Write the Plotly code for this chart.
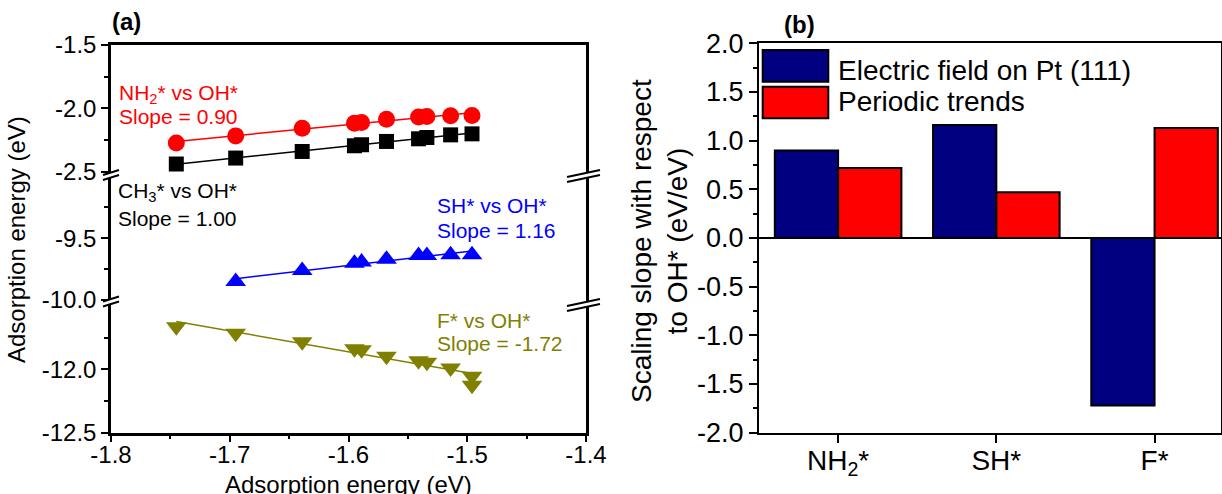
import numpy as np
import plotly.graph_objects as go

W, H = 1222, 494

# ---------------- Panel (a) data ----------------
oh_x = [-1.745, -1.695, -1.639, -1.595, -1.589, -1.568, -1.541, -1.534, -1.514, -1.496]
nh2_y = [-2.274, -2.217, -2.156, -2.117, -2.112, -2.085, -2.068, -2.064, -2.058, -2.057]
ch3_y = [-2.439, -2.392, -2.340, -2.295, -2.287, -2.261, -2.240, -2.230, -2.209, -2.201]
sh_x = [-1.695, -1.639, -1.595, -1.589, -1.568, -1.541, -1.534, -1.514, -1.496]
sh_y = [-9.851, -9.762, -9.702, -9.693, -9.669, -9.640, -9.640, -9.634, -9.634]
f_x = [-1.745, -1.695, -1.639, -1.595, -1.589, -1.568, -1.541, -1.534, -1.514, -1.496, -1.496]
f_y = [-11.664, -11.716, -11.782, -11.838, -11.845, -11.897, -11.932, -11.945, -11.990, -12.055, -12.125]

x_ticks = [-1.8, -1.7, -1.6, -1.5, -1.4]
x_minor = [-1.75, -1.65, -1.55, -1.45]
top_ticks = [-2.5, -2.0, -1.5]
top_minor = [-2.25, -1.75]
mid_ticks = [-10.0, -9.5]
mid_minor = [-9.75, -9.25]
bot_ticks = [-12.5, -12.0]
bot_minor = [-12.25, -11.75]

# ---------------- Panel (b) data ----------------
categories = ["NH<sub>2</sub>*", "SH*", "F*"]
efield_slope = [0.90, 1.16, -1.72]
periodic_slope = [0.72, 0.47, 1.13]
b_ticks = [-2.0, -1.5, -1.0, -0.5, 0.0, 0.5, 1.0, 1.5, 2.0]
b_minor = [-1.75, -1.25, -0.75, -0.25, 0.25, 0.75, 1.25, 1.75]

FONT = "Liberation Sans, Arial, sans-serif"
RED, BLACK, BLUE, OLIVE = "#FF0000", "#000000", "#0000FF", "#808000"
NAVY = "#000080"


def px(x):
    return x / W


def py(y):
    return 1 - y / H


def lbl(vals):
    return [f"{v:.1f}" for v in vals]


def fit(xs, ys):
    k, b = np.polyfit(xs, ys, 1)
    xl = np.array([min(xs), max(xs)])
    return xl, k * xl + b


fig = go.Figure()

series = [
    (oh_x, nh2_y, RED, "circle", 17, "x", "y"),
    (oh_x, ch3_y, BLACK, "square", 15, "x", "y"),
    (sh_x, sh_y, BLUE, "triangle-up", 18, "x2", "y2"),
    (f_x, f_y, OLIVE, "triangle-down", 18, "x3", "y3"),
]
for xs, ys, col, sym, size, xa, ya in series:
    lx, ly = fit(xs, ys)
    fig.add_trace(go.Scatter(x=lx, y=ly, mode="lines", line=dict(color=col, width=1.5),
                             xaxis=xa, yaxis=ya, showlegend=False, hoverinfo="skip"))
    fig.add_trace(go.Scatter(x=xs, y=ys, mode="markers",
                             marker=dict(symbol=sym, size=size, color=col, line=dict(width=0)),
                             xaxis=xa, yaxis=ya, showlegend=False))

fig.add_trace(go.Bar(x=categories, y=efield_slope, name="Electric field on Pt (111)",
                     marker=dict(color=NAVY, line=dict(color="black", width=2)),
                     xaxis="x4", yaxis="y4", showlegend=False))
fig.add_trace(go.Bar(x=categories, y=periodic_slope, name="Periodic trends",
                     marker=dict(color=RED, line=dict(color="black", width=2)),
                     xaxis="x4", yaxis="y4", showlegend=False))

xa_dom = [px(111), px(586)]
ax_common = dict(showgrid=False, zeroline=False, linecolor="black", automargin=False)

def yseg(dom, rng, ticks, minor):
    return dict(domain=dom, range=rng, tickmode="array", tickvals=ticks, ticktext=lbl(ticks),
                ticks="outside", ticklen=7, tickwidth=2, tickcolor="black",
                showline=True, linewidth=2.5, mirror=True,
                tickfont=dict(family=FONT, size=24, color="black"),
                minor=dict(tickmode="array", tickvals=minor, ticks="outside", ticklen=4,
                           tickwidth=2, tickcolor="black"),
                **ax_common)

fig.update_layout(
    width=W, height=H, template="none",
    margin=dict(l=0, r=0, t=0, b=0, pad=0),
    paper_bgcolor="white", plot_bgcolor="rgba(0,0,0,0)",
    showlegend=False, barmode="group", bargap=0.2, bargroupgap=0,
    font=dict(family=FONT, color="black"),
    xaxis=dict(domain=xa_dom, range=[-1.8, -1.4], anchor="y", side="top", matches="x3",
               showline=True, linewidth=2.5, ticks="", showticklabels=False, **ax_common),
    xaxis2=dict(domain=xa_dom, range=[-1.8, -1.4], anchor="y2", matches="x3",
                showline=False, ticks="", showticklabels=False, **ax_common),
    xaxis3=dict(domain=xa_dom, range=[-1.8, -1.4], anchor="y3",
                tickmode="array", tickvals=x_ticks, ticktext=lbl(x_ticks),
                ticks="outside", ticklen=7, tickwidth=2, tickcolor="black",
                showline=True, linewidth=2.5, ticklabelstandoff=-8,
                tickfont=dict(family=FONT, size=24, color="black"),
                minor=dict(tickmode="array", tickvals=x_minor, ticks="outside", ticklen=4,
                           tickwidth=2, tickcolor="black"),
                **ax_common),
    yaxis=yseg([py(172), py(45)], [-2.502, -1.5], top_ticks, top_minor),
    yaxis2=yseg([py(300), py(172)], [-10.0, -8.963], mid_ticks, mid_minor),
    yaxis3=yseg([py(432.7), py(300)], [-12.5, -11.453], bot_ticks, bot_minor),
    xaxis4=dict(domain=[px(759), px(1221)], range=[-0.5, 2.42], anchor="y4",
                type="category", ticks="outside", ticklen=8, tickwidth=2, tickcolor="black",
                showline=True, linewidth=2, mirror=True, ticklabelstandoff=-6,
                tickfont=dict(family=FONT, size=28, color="black"), **ax_common),
    yaxis4=dict(domain=[py(432.7), py(43.3)], range=[-2, 2], anchor="x4",
                tickmode="array", tickvals=b_ticks, ticktext=lbl(b_ticks),
                ticks="outside", ticklen=8, tickwidth=2, tickcolor="black",
                showline=True, linewidth=2, mirror=True,
                tickfont=dict(family=FONT, size=27, color="black"),
                minor=dict(tickmode="array", tickvals=b_minor, ticks="outside", ticklen=4,
                           tickwidth=2, tickcolor="black"),
                showgrid=False, zeroline=True, zerolinecolor="black", zerolinewidth=2,
                linecolor="black", automargin=False),
)

ann = []

def text(x, y, s, size, color="black", xanchor="left", angle=0, bold=False):
    ann.append(dict(x=px(x), y=py(y), xref="paper", yref="paper", text=(f"<b>{s}</b>" if bold else s),
                    showarrow=False, xanchor=xanchor, yanchor="middle", textangle=angle,
                    font=dict(family=FONT, size=size, color=color)))

# panel (a) labels
text(127, 21, "(a)", 24, xanchor="center", bold=True)
text(117, 94, "NH<sub>2</sub>* vs OH*", 21, RED)
text(117, 116, "Slope = 0.90", 21, RED)
text(116, 192, "CH<sub>3</sub>* vs OH*", 21, BLACK)
text(116, 218, "Slope = 1.00", 21, BLACK)
text(434.5, 205, "SH* vs OH*", 21, BLUE)
text(434.5, 230.5, "Slope = 1.16", 21, BLUE)
text(434.5, 320.5, "F* vs OH*", 21, OLIVE)
text(434.5, 343, "Slope = -1.72", 21, OLIVE)
text(17, 240, "Adsorption energy (eV)", 24, xanchor="center", angle=-90)
text(348, 484, "Adsorption energy (eV)", 24, xanchor="center")

# panel (b) labels
text(799, 25, "(b)", 24, xanchor="center", bold=True)
text(659, 241, "Scaling slope with respect<br>to OH* (eV/eV)", 28, xanchor="center", angle=-90)
text(836, 70, "Electric field on Pt (111)", 28)
text(836, 101, "Periodic trends", 28)

shapes = []
# legend swatches
shapes.append(dict(type="rect", xref="paper", yref="paper", x0=px(762.7), x1=px(828.3),
                   y0=py(81.7), y1=py(50), fillcolor=NAVY, line=dict(color="black", width=2)))
shapes.append(dict(type="rect", xref="paper", yref="paper", x0=px(762.7), x1=px(828.3),
                   y0=py(118.3), y1=py(86.7), fillcolor=RED, line=dict(color="black", width=2)))


def brk(x0, x1, ya, yb, gap):
    # two parallel slanted strokes, white in between to cut the axis line
    path = (f"M{px(x0)},{py(ya)} L{px(x1)},{py(yb)} L{px(x1)},{py(yb + gap)} "
            f"L{px(x0)},{py(ya + gap)} Z")
    shapes.append(dict(type="path", xref="paper", yref="paper", path=path,
                       fillcolor="white", line=dict(width=0), layer="above"))
    for d in (0, gap):
        shapes.append(dict(type="line", xref="paper", yref="paper", x0=px(x0), y0=py(ya + d),
                           x1=px(x1), y1=py(yb + d), line=dict(color="black", width=2),
                           layer="above"))

brk(103, 119, 175, 170, 5)
brk(103, 119, 301.5, 296.5, 5)
brk(567, 600, 177, 170, 5)
brk(567, 600, 306, 299, 5)

fig.update_layout(annotations=ann, shapes=shapes)

fig.write_html("out.html", config={"displayModeBar": False},
               post_script="document.body.style.margin='0';")
